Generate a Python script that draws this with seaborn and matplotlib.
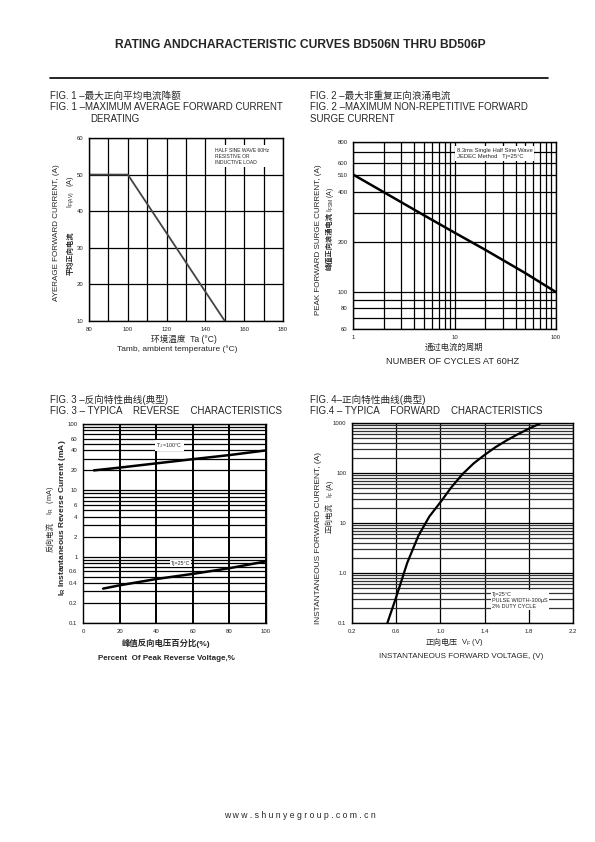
import matplotlib
matplotlib.use('Agg')
import matplotlib.pyplot as plt
import seaborn as sns
from matplotlib.lines import Line2D
from matplotlib.ticker import NullFormatter

# fig 1 - derating
fig1_temp = [80, 100, 150]
fig1_current = [50, 50, 10]
fig1_xticks = [80, 100, 120, 140, 160, 180]
fig1_yticks = [10, 20, 30, 40, 50, 60]

# fig 2 - surge current
fig2_cycles = [1, 2, 5, 10, 20, 50, 100]
fig2_surge = [510, 400, 290, 228, 180, 130, 100]
fig2_yticks = [60, 80, 100, 200, 400, 510, 600, 800]
fig2_yminor = [70, 90, 300, 700]
fig2_xticks = [1, 10, 100]
fig2_xminor = [2, 3, 4, 5, 6, 7, 8, 9, 20, 30, 40, 50, 60, 70, 80, 90]

# fig 3 - reverse characteristics
fig3_pct_100 = [6, 20, 40, 60, 80, 100]
fig3_ir_100 = [20, 22, 25.5, 29.5, 34, 40]
fig3_pct_25 = [11, 20, 40, 60, 80, 100]
fig3_ir_25 = [0.33, 0.37, 0.46, 0.55, 0.67, 0.85]
fig3_yticks = [0.1, 0.2, 0.4, 0.6, 1, 2, 4, 6, 10, 20, 40, 60, 100]
fig3_ylabels = ['0.1', '0.2', '0.4', '0.6', '1', '2', '4', '6', '10', '20', '40', '60', '100']
fig3_yminor = [0.3, 0.5, 0.7, 0.8, 0.9, 3, 5, 7, 8, 9, 30, 50, 70, 80, 90]
fig3_xticks = [0, 20, 40, 60, 80, 100]

# fig 4 - forward characteristics
fig4_vf = [0.52, 0.6, 0.7, 0.8, 0.9, 1.0, 1.1, 1.2, 1.3, 1.4, 1.5, 1.6, 1.7, 1.8, 1.9]
fig4_if = [0.1, 0.33, 1.6, 5.5, 13.5, 26, 52, 95, 155, 230, 330, 450, 595, 770, 970]
fig4_xticks = [0.2, 0.6, 1.0, 1.4, 1.8, 2.2]
fig4_yticks = [0.1, 1, 10, 100, 1000]
fig4_ylabels = ['0.1', '1.0', '10', '100', '1000']
fig4_yminor = [m * d for d in [0.1, 1, 10, 100] for m in range(2, 10)]

sns.set_theme(style='white')
plt.rcParams['font.family'] = ['Liberation Sans', 'Noto Sans CJK SC', 'DejaVu Sans']
plt.rcParams['mathtext.fontset'] = 'custom'
plt.rcParams['mathtext.rm'] = 'Liberation Sans'
plt.rcParams['mathtext.it'] = 'Liberation Sans:italic'
plt.rcParams['mathtext.bf'] = 'Liberation Sans:bold'

W, H = 595, 842
fig = plt.figure(figsize=(5.95, 8.42), dpi=100)


def box(x0, y0, x1, y1):
    return [x0 / W, 1 - y1 / H, (x1 - x0) / W, (y1 - y0) / H]


def put(x, y, s, **kw):
    kw.setdefault('ha', 'left')
    kw.setdefault('va', 'center')
    fig.text(x / W, 1 - y / H, s, **kw)


def style(ax):
    for sp in ax.spines.values():
        sp.set_color('black')
        sp.set_linewidth(1.0)
    ax.tick_params(which='both', length=0, labelsize=4.3, pad=4, colors='#222222')
    ax.grid(which='both', color='black', linewidth=0.9)
    ax.set_axisbelow(True)
    ax.set_xlabel('')
    ax.set_ylabel('')


# header
put(300, 45, 'RATING ANDCHARACTERISTIC CURVES BD506N THRU BD506P', ha='center', size=8.7, weight='bold')
fig.add_artist(Line2D([50 / W, 548 / W], [1 - 78 / H, 1 - 78 / H], color='black', lw=1.2))

# ---- FIG 1
put(50, 96, 'FIG. 1 –最大正向平均电流降额', size=6.9)
put(50, 107, 'FIG. 1 –MAXIMUM AVERAGE FORWARD CURRENT', size=7.0)
put(90, 119, 'DERATING', size=7.0)
ax1 = fig.add_axes(box(89, 138, 283, 321))
sns.lineplot(x=fig1_temp, y=fig1_current, ax=ax1, color='#444444', lw=1.3)
ax1.set_xlim(80, 180)
ax1.set_ylim(10, 60)
ax1.set_xticks(fig1_xticks)
ax1.set_xticks([90, 110, 130, 150, 170], minor=True)
ax1.set_yticks(fig1_yticks)
style(ax1)
ax1.text(145, 57.4, 'HALF SINE WAVE 60Hz\nRESISTIVE OR\nINDUCTIVE LOAD', size=3.6, va='top',
         linespacing=1.3, bbox=dict(facecolor='white', edgecolor='none', pad=1.5))
put(57, 233, 'AYERAGE FORWARD CURRENT, (A)', rotation=90, ha='center', size=5.8)
put(71, 192, r'$\mathrm{I_{F(AV)}}$   (A)', rotation=90, ha='center', size=5.2)
put(71, 253, '平均正向电流', rotation=90, ha='center', size=5.2, weight='bold')
put(184, 339, '环境温度  Ta (°C)', ha='center', size=6.2)
put(177, 349, 'Tamb, ambient temperature (°C)', ha='center', size=6.0)

# ---- FIG 2
put(310, 96, 'FIG. 2 –最大非重复正向浪涌电流', size=6.9)
put(310, 107, 'FIG. 2 –MAXIMUM NON-REPETITIVE FORWARD', size=7.0)
put(310, 119, 'SURGE CURRENT', size=7.0)
ax2 = fig.add_axes(box(353, 142, 556, 329))
sns.lineplot(x=fig2_cycles, y=fig2_surge, ax=ax2, color='black', lw=1.8)
ax2.set_xscale('log')
ax2.set_yscale('log')
ax2.set_xlim(1, 100)
ax2.set_ylim(60, 800)
ax2.set_xticks(fig2_xticks)
ax2.set_xticklabels([str(v) for v in fig2_xticks])
ax2.set_xticks(fig2_xminor, minor=True)
ax2.set_yticks(fig2_yticks)
ax2.set_yticklabels([str(v) for v in fig2_yticks])
ax2.set_yticks(fig2_yminor, minor=True)
ax2.xaxis.set_minor_formatter(NullFormatter())
ax2.yaxis.set_minor_formatter(NullFormatter())
style(ax2)
ax2.text(10.5, 740, '8.3ms Single Half Sine Wave\nJEDEC Method   Tj=25°C', size=4.2, va='top',
         linespacing=1.35, bbox=dict(facecolor='white', edgecolor='none', pad=1.2))
put(318, 240, 'PEAK FORWARD SURGE CURRENT, (A)', rotation=90, ha='center', size=5.8)
put(330, 241, '峰值正向浪涌电流', rotation=90, ha='center', size=5.2, weight='bold')
put(330, 199, r'$\mathrm{I_{FSM}}$ (A)', rotation=90, ha='center', size=5.0)
put(454, 348, '通过电流的周期', ha='center', size=6.0)
put(453, 361, 'NUMBER OF CYCLES AT 60HZ', ha='center', size=6.7)

# ---- FIG 3
put(50, 400, 'FIG. 3 –反向特性曲线(典型)', size=6.9)
put(50, 411, 'FIG. 3 – TYPICA    REVERSE    CHARACTERISTICS', size=7.0)
ax3 = fig.add_axes(box(83, 424, 266, 623))
sns.lineplot(x=fig3_pct_100, y=fig3_ir_100, ax=ax3, color='black', lw=1.8)
sns.lineplot(x=fig3_pct_25, y=fig3_ir_25, ax=ax3, color='black', lw=1.8)
ax3.set_yscale('log')
ax3.set_xlim(0, 100)
ax3.set_ylim(0.1, 100)
ax3.set_xticks(fig3_xticks)
ax3.set_yticks(fig3_yticks)
ax3.set_yticklabels(fig3_ylabels)
ax3.set_yticks(fig3_yminor, minor=True)
ax3.yaxis.set_minor_formatter(NullFormatter())
style(ax3)
ax3.xaxis.grid(True, which='major', linewidth=1.4, color='black')
ax3.text(40, 48, r'T$_\mathrm{J}$ =100°C', size=3.8, va='center',
         bbox=dict(facecolor='white', edgecolor='none', pad=0.8))
ax3.text(48, 0.78, 'Tj=25°C', size=3.8, va='center',
         bbox=dict(facecolor='white', edgecolor='none', pad=0.8))
put(51, 537, '反向电流', rotation=90, ha='center', size=5.4)
put(51, 500, r'$\mathrm{I_R}$   (mA)', rotation=90, ha='center', size=5.2)
put(62, 518, r'$\mathbf{I_R}$ Instantaneous Reverse Current (mA)', rotation=90, ha='center',
    size=6.0, weight='bold')
put(166, 643, '峰值反向电压百分比(%)', ha='center', size=6.0, weight='bold')
put(166, 658, 'Percent  Of Peak Reverse Voltage,%', ha='center', size=5.8, weight='bold')

# ---- FIG 4
put(310, 400, 'FIG. 4–正向特性曲线(典型)', size=6.9)
put(310, 411, 'FIG.4 – TYPICA    FORWARD    CHARACTERISTICS', size=7.0)
ax4 = fig.add_axes(box(352, 423, 573, 623))
sns.lineplot(x=fig4_vf, y=fig4_if, ax=ax4, color='black', lw=1.6)
ax4.set_yscale('log')
ax4.set_xlim(0.2, 2.2)
ax4.set_ylim(0.1, 1000)
ax4.set_xticks(fig4_xticks)
ax4.set_xticklabels(['0.2', '0.6', '1.0', '1.4', '1.8', '2.2'])
ax4.set_yticks(fig4_yticks)
ax4.set_yticklabels(fig4_ylabels)
ax4.set_yticks(fig4_yminor, minor=True)
ax4.yaxis.set_minor_formatter(NullFormatter())
style(ax4)
ax4.yaxis.grid(True, which='minor', color='#333333', linewidth=0.9)
ax4.text(1.47, 0.42, 'Tj=25°C\nPULSE WIDTH-300μS\n2% DUTY CYCLE', size=4.0, va='top',
         linespacing=1.25, bbox=dict(facecolor='white', edgecolor='none', pad=1.0))
put(318, 538, 'INSTANTANEOUS FORWARD CURRENT, (A)', rotation=90, ha='center', size=6.0)
put(330, 518, '正向电流', rotation=90, ha='center', size=5.4)
put(330, 489, r'$\mathrm{I_F}$ (A)', rotation=90, ha='center', size=5.2)
put(442, 643, '正向电压', ha='center', size=5.8)
put(472, 643, r'$\mathrm{V_F}$ (V)', ha='center', size=5.4)
put(461, 657, 'INSTANTANEOUS FORWARD VOLTAGE, (V)', ha='center', size=5.8)

# footer
put(300, 816, ' '.join('www.shunyegroup.com.cn'), ha='center', size=6.2)

fig.savefig('out.png', dpi=100, facecolor='white')
